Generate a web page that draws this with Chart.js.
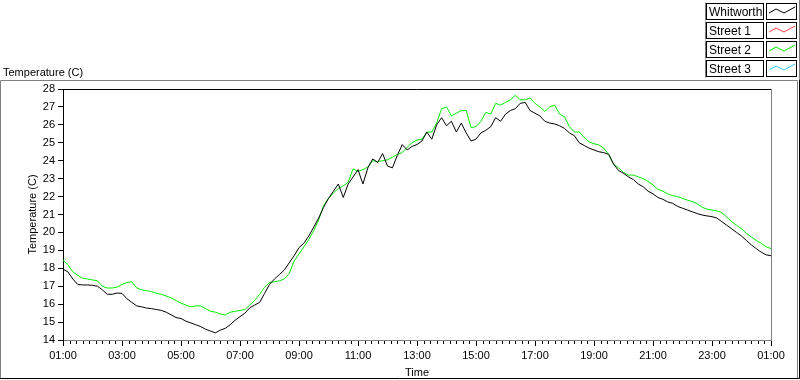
<!DOCTYPE html>
<html>
<head>
<meta charset="utf-8">
<script src="https://cdn.jsdelivr.net/npm/chart.js@4.4.1/dist/chart.umd.min.js"></script>
<style>
  html, body { margin: 0; padding: 0; background: #ffffff; }
  canvas { display: block; }
</style>
</head>
<body>
<canvas id="c" width="800" height="380"></canvas>
<script>
// ---- DATA (10-minute readings from 01:00 to 01:00 next day) ----
const seriesNames = ["Whitworth", "Street 1", "Street 2", "Street 3"];
const seriesColors = ["#000000", "#ff4040", "#00ee00", "#33ccff"];
const xTickLabels = ["01:00","03:00","05:00","07:00","09:00","11:00","13:00","15:00","17:00","19:00","21:00","23:00","01:00"];
const yTickValues = [14,15,16,17,18,19,20,21,22,23,24,25,26,27,28];

const whitworth = [
  17.95,17.8,17.4,17.1,17.07,17.07,17.05,17.0,16.8,16.55,16.55,16.62,
  16.6,16.3,16.1,15.9,15.85,15.78,15.75,15.7,15.65,15.55,15.4,15.25,
  15.2,15.05,14.95,14.85,14.75,14.6,14.5,14.4,14.55,14.65,14.85,15.1,
  15.3,15.5,15.8,15.95,16.1,16.6,17.1,17.4,17.65,17.9,18.3,18.7,
  19.15,19.4,19.8,20.3,20.8,21.4,21.9,22.3,22.7,21.95,22.7,23.1,
  23.5,22.7,23.6,24.1,23.9,24.4,23.7,23.6,24.3,24.9,24.6,24.8,
  24.9,25.1,25.6,25.2,26.0,26.4,25.95,26.2,25.6,26.1,25.55,25.1,
  25.2,25.55,25.7,25.9,26.4,26.2,26.6,26.8,26.9,27.2,27.25,26.8,
  26.65,26.5,26.2,26.1,26.05,25.95,25.8,25.55,25.4,25.0,24.85,24.7,
  24.6,24.5,24.45,24.35,23.8,23.45,23.3,23.1,22.95,22.7,22.55,22.3,
  22.15,21.95,21.85,21.7,21.62,21.45,21.35,21.25,21.15,21.05,20.97,20.92,
  20.88,20.8,20.6,20.4,20.2,20.0,19.8,19.55,19.3,19.1,18.9,18.75,
  18.7
];
const street1 = [];
const street2 = [
  18.45,18.2,17.8,17.6,17.45,17.4,17.35,17.3,17.0,16.9,16.9,16.95,
  17.1,17.2,17.25,16.9,16.8,16.75,16.7,16.6,16.55,16.45,16.35,16.2,
  16.05,15.95,15.85,15.9,15.9,15.75,15.6,15.55,15.45,15.4,15.55,15.6,
  15.65,15.7,15.95,16.2,16.55,16.95,17.2,17.25,17.3,17.4,17.7,18.4,
  18.8,19.2,19.6,20.1,20.7,21.5,21.9,22.2,22.45,22.6,22.8,23.55,
  23.4,23.5,23.65,24.0,23.95,24.0,24.05,24.2,24.35,24.45,24.75,25.0,
  25.15,25.2,25.6,25.6,26.1,26.9,27.0,26.5,26.65,26.8,26.8,25.85,
  25.9,26.2,26.7,26.6,27.2,27.1,27.25,27.4,27.65,27.4,27.4,27.5,
  27.2,27.0,26.75,27.0,27.1,26.6,26.45,25.9,25.6,25.6,25.3,25.05,
  24.95,24.88,24.7,24.35,23.8,23.6,23.35,23.2,23.2,23.1,23.0,22.85,
  22.65,22.4,22.3,22.15,22.05,22.0,21.9,21.8,21.72,21.6,21.4,21.3,
  21.25,21.2,21.1,20.85,20.6,20.4,20.2,19.95,19.75,19.55,19.4,19.2,
  19.1
];
const street3 = [];
const sampleMinutes = 10; // spacing between readings

const seriesValues = [whitworth, street1, street2, street3];
const FONT = "'Liberation Sans', Arial, sans-serif";

function toPoints(arr) {
  return arr.map((v, i) => ({ x: i * sampleMinutes / 60, y: v }));
}

const decor = {
  id: 'decor',
  afterDraw(chart) {
    const ctx = chart.ctx;
    const a = chart.chartArea;
    const xs = chart.scales.x;
    ctx.save();
    // outer panel frame
    ctx.lineWidth = 1;
    ctx.strokeStyle = '#808080';
    ctx.beginPath();
    ctx.moveTo(0.5, 379); ctx.lineTo(0.5, 80.5); ctx.lineTo(797.5, 80.5); ctx.lineTo(797.5, 379);
    ctx.stroke();
    ctx.beginPath();
    ctx.moveTo(799.5, 0); ctx.lineTo(799.5, 80);
    ctx.stroke();
    ctx.strokeStyle = '#000000';
    ctx.beginPath();
    ctx.moveTo(0, 378.5); ctx.lineTo(799.5, 378.5); ctx.lineTo(799.5, 80);
    ctx.stroke();

    // plot area: top black, right grey
    ctx.strokeStyle = '#000000';
    ctx.beginPath();
    ctx.moveTo(a.left, Math.floor(a.top) + 0.5); ctx.lineTo(a.right + 1, Math.floor(a.top) + 0.5);
    ctx.stroke();
    ctx.strokeStyle = '#808080';
    ctx.beginPath();
    ctx.moveTo(Math.round(a.right) + 0.5, a.top); ctx.lineTo(Math.round(a.right) + 0.5, a.bottom);
    ctx.stroke();

    // minor ticks on time axis
    ctx.strokeStyle = '#000000';
    for (let k = 0; k <= 108; k++) {
      if (k % 9 === 0) continue;
      const px = Math.round(xs.getPixelForValue(k * 2 / 9)) + 0.5;
      ctx.beginPath();
      ctx.moveTo(px, a.bottom + 1); ctx.lineTo(px, a.bottom + 4);
      ctx.stroke();
    }

    // texts
    ctx.fillStyle = '#000000';
    ctx.font = '11px ' + FONT;
    ctx.textBaseline = 'alphabetic';
    ctx.textAlign = 'left';
    ctx.fillText('Temperature (C)', 3, 76);
    ctx.textAlign = 'center';
    ctx.fillText('Time', (a.left + a.right) / 2, 376);
    ctx.save();
    ctx.translate(36, (a.top + a.bottom) / 2);
    ctx.rotate(-Math.PI / 2);
    ctx.fillText('Temperature (C)', 0, 0);
    ctx.restore();

    // legend
    chart.data.datasets.forEach((ds, i) => {
      const top = 4 + i * 19;
      // text box
      ctx.fillStyle = '#ffffff';
      ctx.fillRect(707, top, 56, 15);
      ctx.strokeStyle = '#000000';
      ctx.strokeRect(706.5, top - 0.5, 57, 16);
      ctx.strokeStyle = '#808080';
      ctx.beginPath();
      ctx.moveTo(705.5, top + 16.5); ctx.lineTo(705.5, top - 1.5); 
      ctx.stroke();
      // sample box
      ctx.fillStyle = '#ffffff';
      ctx.fillRect(767, top, 30, 15);
      ctx.strokeStyle = '#000000';
      ctx.strokeRect(766.5, top - 0.5, 30, 16);
      // label
      ctx.fillStyle = '#000000';
      ctx.font = '12px ' + FONT;
      ctx.textAlign = 'left';
      ctx.fillText(ds.label, 709, top + 12);
      // sample line
      ctx.strokeStyle = ds.borderColor;
      ctx.beginPath();
      ctx.moveTo(769, top + 9);
      ctx.lineTo(776, top + 5);
      ctx.lineTo(784, top + 9);
      ctx.lineTo(795, top + 3);
      ctx.stroke();
    });
    ctx.restore();
  }
};

new Chart(document.getElementById('c'), {
  type: 'line',
  data: {
    datasets: seriesNames.map((name, i) => ({
      label: name,
      data: toPoints(seriesValues[i]),
      borderColor: seriesColors[i],
      backgroundColor: seriesColors[i],
      borderWidth: 1,
      pointRadius: 0,
      tension: 0,
      fill: false
    }))
  },
  options: {
    responsive: false,
    animation: false,
    devicePixelRatio: 1,
    layout: { padding: { top: 89, right: 29, left: 0, bottom: 0 } },
    plugins: { legend: { display: false }, tooltip: { enabled: false }, title: { display: false } },
    scales: {
      x: {
        type: 'linear',
        min: 0, max: 24,
        afterFit(s) { s.height = 40; },
        afterBuildTicks(s) { s.ticks = xTickLabels.map((_, i) => ({ value: i * 2 })); },
        ticks: {
          callback: (v) => xTickLabels[Math.round(v / 2)],
          color: '#000000',
          font: { family: FONT, size: 11 },
          padding: 3,
          maxRotation: 0,
          autoSkip: false
        },
        grid: { drawOnChartArea: false, drawTicks: true, tickLength: 6, tickColor: '#000000' },
        border: { display: true, color: '#808080' }
      },
      y: {
        min: 14, max: 28,
        afterFit(s) { s.width = 63; },
        afterBuildTicks(s) { s.ticks = yTickValues.map(v => ({ value: v })); },
        ticks: {
          color: '#000000',
          font: { family: FONT, size: 11 },
          padding: 3
        },
        grid: { drawOnChartArea: false, drawTicks: true, tickLength: 5, tickColor: '#000000' },
        border: { display: true, color: '#000000' }
      }
    }
  },
  plugins: [decor]
});
</script>
</body>
</html>
